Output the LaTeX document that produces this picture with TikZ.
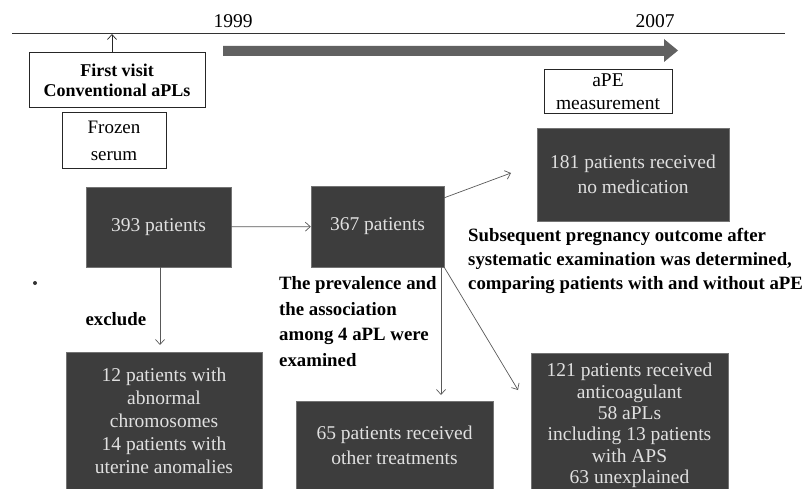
\documentclass[tikz,border=0pt]{standalone}
\usepackage{fontspec}
\setmainfont{Liberation Serif}
\usetikzlibrary{positioning}
\usetikzlibrary{arrows.meta}

\newcommand{\flowfont}{\fontsize{19.5}{23}\selectfont}
\newcommand{\notefont}{\fontsize{18.8}{25.5}\selectfont\bfseries}

\tikzset{
  darkbox/.style={draw=black!55, fill=black!76, text=black!12, align=center, inner sep=0pt, font=\flowfont},
  whitebox/.style={draw=black!85, line width=1pt, fill=white, align=center, inner sep=0pt},
  flow/.style={draw=black!65, line width=0.7pt, -{Straight Barb[length=5pt,width=9pt]}},
  note/.style={align=left, inner sep=0pt, font=\notefont}
}

\begin{document}
\begin{tikzpicture}[x=1pt,y=-1pt]
      \clip (0,0) rectangle (810,489);
      % time line
      \draw[black!80, line width=1pt] (12,34) -- (785,34);
      \node[anchor=base, font=\flowfont] (y1999) at (233,28) {1999};
      \node[anchor=base, font=\flowfont] (y2007) at (655,28) {2007};
      \fill[black!62] (223,46) -- (664,46) -- (664,39) -- (678,50.5) -- (664,62) -- (664,56) -- (223,56) -- cycle;
      \coordinate (onLine) at (112,34);

      \node[whitebox, minimum width=176pt, minimum height=55pt, font=\bfseries\fontsize{18}{20}\selectfont] (visit) at (117,80.5) {First visit\\Conventional aPLs};
      \node[whitebox, minimum width=104pt, minimum height=56pt, font=\fontsize{19}{27}\selectfont] (frozen) at (114,141) {Frozen\\serum};
      \node[whitebox, minimum width=128pt, minimum height=44pt, font=\fontsize{19.5}{23}\selectfont] (apeMeas) at (608,92) {aPE\\measurement};
      \draw[flow, draw=black!85] (onLine |- visit.north) -- (onLine);

      % patients
      \node[darkbox, minimum width=145pt, minimum height=80pt] (pat393) at (158.5,227) {393 patients};
      \node[darkbox, minimum width=133pt, minimum height=81pt] (pat367) at (377.5,226.5) {367 patients};
      \node[darkbox, minimum width=192pt, minimum height=93pt, font=\fontsize{19.5}{25}\selectfont] (noMed) at (633,174.5) {181 patients received\\no medication};
      \node[darkbox, minimum width=196pt, minimum height=138pt] (excluded) at (164,421) {12 patients with\\abnormal\\chromosomes\\14 patients with\\uterine anomalies};
      \node[darkbox, minimum width=197pt, minimum height=88pt, font=\fontsize{19.5}{25}\selectfont] (otherTr) at (394.5,445) {65 patients received\\other treatments};
      \node[darkbox, minimum width=197pt, minimum height=145pt, font=\fontsize{19.5}{21.4}\selectfont] (anticoag) at (629.5,425.5) {121 patients received\\anticoagulant\\58 aPLs\\including 13 patients\\with APS\\63 unexplained};

      \coordinate (toNoMed) at (511,173);
      \coordinate (toOther) at (441,395);
      \coordinate (toAnti) at (518,390);
      \coordinate (toExcl) at (160,345);
      \draw[flow] (pat393) -- (pat367);
      \draw[flow] ([yshift=-12pt]pat367.north east) -- (toNoMed);
      \draw[flow] (pat367.south -| toOther) -- (toOther);
      \draw[flow] (pat367.south east) -- (toAnti);
      \draw[flow] (pat393.south -| toExcl) -- (toExcl);

      \node[anchor=base west, font=\notefont] (exclude) at (82,325) {exclude};
      \node[note, anchor=west] (prevalence) at (279,321.5) {The prevalence and\\the association\\among 4 aPL were\\examined};
      \node[note, anchor=west, font=\fontsize{18.8}{24}\selectfont\bfseries] (outcome) at (468,261) {Subsequent pregnancy outcome after\\systematic examination was determined,\\comparing patients with and without aPE};
      \fill[black!80] (35,283) circle (2pt);
    \end{tikzpicture}
\end{document}
